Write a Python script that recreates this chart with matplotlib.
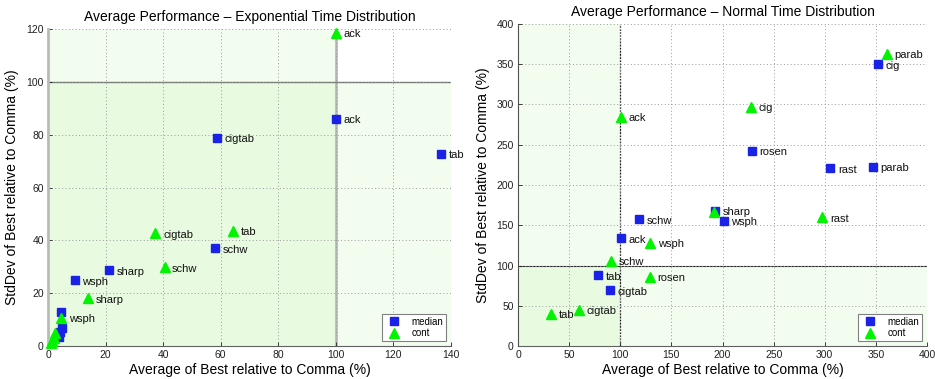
import matplotlib
matplotlib.use("Agg")
import matplotlib.pyplot as plt

plt.rcParams['font.family'] = ['Liberation Sans', 'DejaVu Sans']

# Exponential time distribution: (avg, stddev) of best relative to comma, in %
exp_median_names = ['ack', 'cigtab', 'tab', 'schw', 'sharp', 'wsph', '', '', '', '']
exp_median_x = [100.0, 58.6, 136.5, 58.1, 21.1, 9.3, 4.4, 4.8, 4.3, 3.8]
exp_median_y = [86.0, 78.9, 72.7, 37.0, 28.6, 24.9, 12.8, 7.0, 5.4, 3.5]

exp_cont_names = ['ack', 'tab', 'cigtab', 'schw', 'sharp', 'wsph', '', '', '', '']
exp_cont_x = [99.9, 64.4, 37.3, 40.5, 14.0, 4.5, 2.6, 2.0, 1.5, 1.0]
exp_cont_y = [118.5, 43.6, 42.6, 29.8, 18.0, 10.7, 5.0, 3.2, 2.0, 1.0]

# Normal time distribution
norm_median_names = ['cig', 'rosen', 'rast', 'parab', 'sharp', 'wsph', 'schw', 'ack', 'tab', 'cigtab']
norm_median_x = [351.6, 228.6, 305.3, 346.7, 192.3, 201.2, 118.2, 100.3, 78.7, 90.1]
norm_median_y = [350.0, 242.6, 220.7, 222.7, 168.0, 155.7, 157.4, 133.8, 87.8, 69.2]

# 'sharp' sits on top of the median marker, so its label is shared
norm_cont_names = ['parab', 'cig', 'ack', '', 'rast', 'wsph', 'schw', 'rosen', 'cigtab', 'tab']
norm_cont_x = [360.4, 227.6, 100.3, 192.0, 297.7, 129.0, 91.1, 129.0, 59.8, 32.3]
norm_cont_y = [363.0, 297.0, 285.0, 166.0, 160.0, 128.0, 106.0, 86.0, 45.0, 40.0]

titles = ['Average Performance \u2013 Exponential Time Distribution',
          'Average Performance \u2013 Normal Time Distribution']
xlabel = 'Average of Best relative to Comma (%)'
ylabel = 'StdDev of Best relative to Comma (%)'

BLUE = '#1a22e8'
GREEN = '#00f400'
LIGHT = '#f2fdef'
OVERLAP = '#e8fbe1'

fig = plt.figure(figsize=(9.35, 3.79), dpi=100)
ax1 = fig.add_axes([48/935, 1-346/379, (451-48)/935, (346-29)/379])
ax2 = fig.add_axes([518/935, 1-346/379, (927-518)/935, (346-24)/379])


def setup(ax, xmax, ymax, xstep, ystep, title, vline_style, hline_style, spine_left):
    ax.set_xlim(0, xmax)
    ax.set_ylim(0, ymax)
    ax.set_xticks(range(0, xmax + 1, xstep))
    ax.set_yticks(range(0, ymax + 1, ystep))
    # good region shading: avg < 100 and/or stddev < 100
    ax.axvspan(0, 100, color=LIGHT, lw=0, zorder=0)
    ax.axhspan(0, 100, color=LIGHT, lw=0, zorder=0)
    ax.fill_between([0, 100], 0, 100, color=OVERLAP, lw=0, zorder=0.5)
    ax.grid(True, linestyle=(0, (1, 2.5)), color='#9a9a9a', lw=0.7, zorder=1)
    ax.axvline(100, zorder=1.5, **vline_style)
    ax.axhline(100, zorder=1.5, **hline_style)
    for s in ('top', 'right'):
        ax.spines[s].set_visible(False)
    ax.spines['left'].set_color(spine_left[0])
    ax.spines['left'].set_linewidth(spine_left[1])
    ax.spines['bottom'].set_color('#606060')
    ax.spines['bottom'].set_linewidth(0.8)
    ax.tick_params(direction='in', length=3, width=0.6, labelsize=7.5,
                   colors='#202020', pad=3)
    ax.set_title(title, fontsize=10, pad=6)
    ax.set_xlabel(xlabel, fontsize=10, labelpad=2)
    ax.set_ylabel(ylabel, fontsize=10, labelpad=5)


setup(ax1, 140, 120, 20, 20, titles[0],
      dict(color='#b8bcb8', lw=2.0), dict(color='#707670', lw=1.0),
      ('#b8bcb8', 2.0))
setup(ax2, 400, 400, 50, 50, titles[1],
      dict(color='#202020', lw=0.9, linestyle=(0, (1.5, 1))),
      dict(color='#303030', lw=0.8),
      ('#505050', 0.8))


def scatter(ax, xs, ys, names, marker, color, ms, label):
    ax.plot(xs, ys, linestyle='none', marker=marker, color=color, mec=color,
            ms=ms, label=label, zorder=3, clip_on=False)
    for x, y, n in zip(xs, ys, names):
        if n:
            ax.annotate(n, (x, y), xytext=(5.5, -1), textcoords='offset points',
                        fontsize=8, va='center', ha='left', color='#101010',
                        zorder=4)


scatter(ax1, exp_median_x, exp_median_y, exp_median_names, 's', BLUE, 5.5, 'median')
scatter(ax1, exp_cont_x, exp_cont_y, exp_cont_names, '^', GREEN, 7.5, 'cont')
scatter(ax2, norm_median_x, norm_median_y, norm_median_names, 's', BLUE, 5.5, 'median')
scatter(ax2, norm_cont_x, norm_cont_y, norm_cont_names, '^', GREEN, 7.5, 'cont')

for ax in (ax1, ax2):
    leg = ax.legend(loc='lower right', fontsize=7, frameon=True, fancybox=False,
                    edgecolor='#808080', framealpha=1, borderpad=0.3,
                    handletextpad=0.9, labelspacing=0.15, handlelength=1.8,
                    borderaxespad=0.5)
    leg.get_frame().set_linewidth(0.8)

fig.savefig('out.png', dpi=100, facecolor='white')
